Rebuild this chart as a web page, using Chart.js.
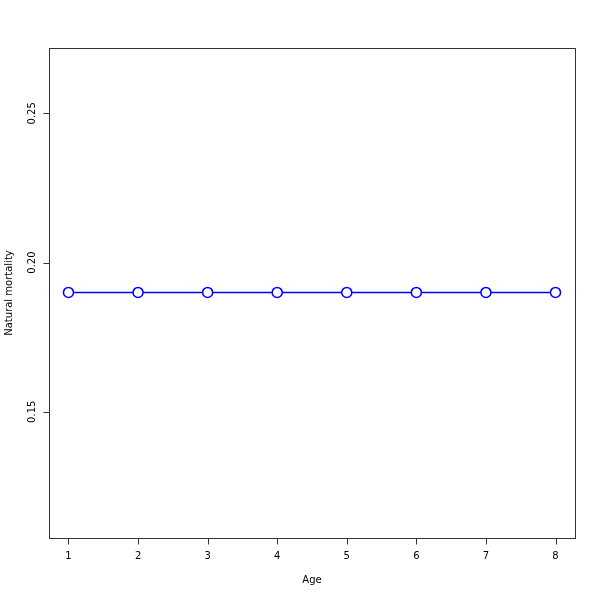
<!DOCTYPE html>
<html><head><meta charset="utf-8">
<script src="https://cdn.jsdelivr.net/npm/chart.js@4/dist/chart.umd.min.js"></script>
<style>html,body{margin:0;padding:0;background:#fff}#wrap{width:600px;height:600px}</style>
</head><body><div id="wrap"><canvas id="c" width="600" height="600"></canvas></div>
<script>
const ages = [1, 2, 3, 4, 5, 6, 7, 8];
const mortality = [0.19, 0.19, 0.19, 0.19, 0.19, 0.19, 0.19, 0.19];
const xTicks = [1, 2, 3, 4, 5, 6, 7, 8];
const yTicks = [0.15, 0.20, 0.25];
const xLabel = 'Age';
const yLabel = 'Natural mortality';

const FONT = '10px "DejaVu Sans", sans-serif';
const axesPlugin = {
  id: 'rAxes',
  afterDraw(chart) {
    const ctx = chart.ctx, a = chart.chartArea;
    const xs = chart.scales.x, ys = chart.scales.y;
    ctx.save();
    ctx.strokeStyle = '#333';
    ctx.lineWidth = 1;
    ctx.strokeRect(Math.round(a.left) + 0.5, Math.round(a.top) + 0.5, Math.round(a.right - a.left), Math.round(a.bottom - a.top));
    ctx.fillStyle = '#000';
    ctx.font = FONT;
    // x axis ticks
    ctx.beginPath();
    const bx = Math.round(a.bottom) + 0.5;
    ctx.moveTo(Math.round(xs.getPixelForValue(xTicks[0])) + 0.5, bx);
    ctx.lineTo(Math.round(xs.getPixelForValue(xTicks[xTicks.length - 1])) + 0.5, bx);
    xTicks.forEach(v => {
      const px = Math.round(xs.getPixelForValue(v)) + 0.5;
      ctx.moveTo(px, bx); ctx.lineTo(px, bx + 6);
    });
    ctx.stroke();
    ctx.textAlign = 'center'; ctx.textBaseline = 'middle';
    xTicks.forEach(v => ctx.fillText(String(v), xs.getPixelForValue(v), a.bottom + 18));
    // y axis ticks
    ctx.beginPath();
    const lx = Math.round(a.left) + 0.5;
    ctx.moveTo(lx, Math.round(ys.getPixelForValue(yTicks[0])) + 0.5);
    ctx.lineTo(lx, Math.round(ys.getPixelForValue(yTicks[yTicks.length - 1])) + 0.5);
    yTicks.forEach(v => {
      const py = Math.round(ys.getPixelForValue(v)) + 0.5;
      ctx.moveTo(lx, py); ctx.lineTo(lx - 6, py);
    });
    ctx.stroke();
    yTicks.forEach(v => {
      ctx.save();
      ctx.translate(a.left - 17, ys.getPixelForValue(v));
      ctx.rotate(-Math.PI / 2);
      ctx.fillText(v.toFixed(2), 0, 0);
      ctx.restore();
    });
    // titles
    ctx.fillText(xLabel, (a.left + a.right) / 2, a.bottom + 42);
    ctx.save();
    ctx.translate(9, (a.top + a.bottom) / 2);
    ctx.rotate(-Math.PI / 2);
    ctx.fillText(yLabel, 0, 0);
    ctx.restore();
    ctx.restore();
  }
};

new Chart(document.getElementById('c'), {
  type: 'line',
  data: {
    datasets: [{
      data: ages.map((a, i) => ({ x: a, y: mortality[i] })),
      borderColor: '#0000ff',
      borderWidth: 1.5,
      pointRadius: 5,
      pointBorderWidth: 1.5,
      pointBackgroundColor: '#ffffff',
      pointBorderColor: '#0000ff',
      tension: 0
    }]
  },
  options: {
    responsive: false,
    animation: false,
    devicePixelRatio: 1,
    layout: { padding: { left: 49, right: 25, top: 48, bottom: 62 } },
    plugins: { legend: { display: false }, tooltip: { enabled: false } },
    scales: {
      x: { type: 'linear', display: false, min: 0.72, max: 8.28 },
      y: { type: 'linear', display: false, min: 0.1077, max: 0.2719 }
    }
  },
  plugins: [axesPlugin]
});
</script></body></html>
